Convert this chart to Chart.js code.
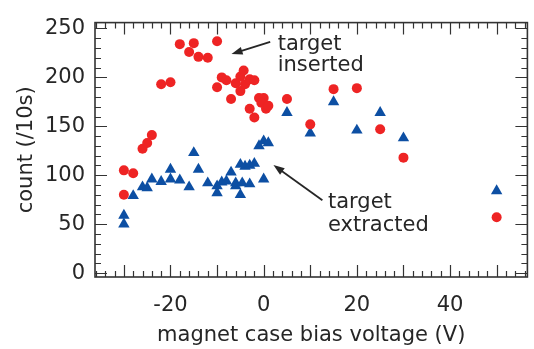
<!DOCTYPE html>
<html>
<head>
<meta charset="utf-8">
<script src="https://cdn.jsdelivr.net/npm/chart.js@4/dist/chart.umd.min.js"></script>
<style>html,body{margin:0;padding:0;background:#fff}</style>
</head>
<body>
<canvas id="graphique" width="534" height="349"></canvas>
<script>
// cible insérée (cercles rouges)
const insereX = [-30, -30, -28, -26, -25, -24, -22, -20, -18, -16, -15, -14, -12, -10, -10, -9, -8, -7, -6, -5, -4.3, -5, -4, -3, -2, -3, -2, -1, 0, -0.5, 0.5, 1, 5, 10, 15, 20, 25, 30, 50];
const insereY = [105, 80, 102, 127, 133, 141, 193, 195, 234, 226, 235, 221, 220, 237, 190, 200, 197, 178, 194, 201, 207, 186, 193, 198, 197, 168, 159, 179, 179, 174, 168, 171, 178, 152, 188, 189, 147, 118, 57];

// cible extraite (triangles bleus)
const extraitX = [-30, -30, -28, -26, -25, -24, -22, -20, -20, -18, -16, -15, -14, -12, -10, -10, -9, -8, -7, -6, -6, -5, -4.6, -3, -5, -4, -3, -2, 0, -1, 0, 1, 5, 10, 15, 20, 25, 30, 50];
const extraitY = [59, 50, 79, 88, 87, 96, 93.5, 106, 96, 95, 88, 123, 106, 92, 89, 82, 93, 94, 103, 89, 92, 80, 92, 91, 111, 109, 110, 112, 96, 130, 135, 133, 164, 143, 175, 146, 164, 138, 84];

const ticksX = [-20, 0, 20, 40];
const ticksY = [0, 50, 100, 150, 200, 250];

const police = "'DejaVu Sans'";
const gris = '#262626';

// flèches et textes d'annotation, en coordonnées des données
const annotations = [
    { lignes: ['target', 'inserted'], x: 3.0, y: [228.3, 206.6], de: [1.4, 236.4], vers: [-6.9, 223.9] },
    { lignes: ['target', 'extracted'], x: 13.8, y: [66.9, 42.9], de: [12.6, 74.5], vers: [2.1, 110.4] }
];

const cadre = {
    id: 'cadre',
    afterDatasetsDraw(chart) {
        const { ctx, chartArea: a, scales: { x, y } } = chart;
        ctx.save();
        ctx.strokeStyle = '#333';
        ctx.lineWidth = 1.2;
        ctx.beginPath();
        for (let v = -36; v <= 56; v += 2) {
            const px = Math.round(x.getPixelForValue(v)) + 0.5;
            const l = v % 10 === 0 ? 12 : 6;
            ctx.moveTo(px, a.bottom); ctx.lineTo(px, a.bottom - l);
            ctx.moveTo(px, a.top); ctx.lineTo(px, a.top + l);
        }
        for (let v = 0; v <= 250; v += 10) {
            const py = Math.round(y.getPixelForValue(v)) + 0.5;
            const l = v % 50 === 0 ? 12 : 6;
            ctx.moveTo(a.left, py); ctx.lineTo(a.left + l, py);
            ctx.moveTo(a.right, py); ctx.lineTo(a.right - l, py);
        }
        ctx.stroke();
        ctx.lineWidth = 1.6;
        ctx.strokeRect(a.left, a.top, a.right - a.left, a.bottom - a.top);

        ctx.fillStyle = gris;
        ctx.strokeStyle = gris;
        ctx.font = '21px ' + police;
        ctx.textBaseline = 'alphabetic';
        annotations.forEach(an => {
            an.lignes.forEach((t, i) => ctx.fillText(t, x.getPixelForValue(an.x), y.getPixelForValue(an.y[i])));
            const x1 = x.getPixelForValue(an.de[0]), y1 = y.getPixelForValue(an.de[1]);
            const x2 = x.getPixelForValue(an.vers[0]), y2 = y.getPixelForValue(an.vers[1]);
            const ang = Math.atan2(y2 - y1, x2 - x1);
            ctx.lineWidth = 1.8;
            ctx.beginPath();
            ctx.moveTo(x1, y1);
            ctx.lineTo(x2 - 8 * Math.cos(ang), y2 - 8 * Math.sin(ang));
            ctx.stroke();
            ctx.beginPath();
            ctx.moveTo(x2, y2);
            ctx.lineTo(x2 - 11 * Math.cos(ang) + 4 * Math.sin(ang), y2 - 11 * Math.sin(ang) - 4 * Math.cos(ang));
            ctx.lineTo(x2 - 11 * Math.cos(ang) - 4 * Math.sin(ang), y2 - 11 * Math.sin(ang) + 4 * Math.cos(ang));
            ctx.closePath();
            ctx.fill();
        });
        ctx.restore();
    }
};

new Chart(document.getElementById('graphique'), {
    type: 'scatter',
    data: {
        datasets: [
            {
                label: 'target inserted',
                data: insereX.map((v, i) => ({ x: v, y: insereY[i] })),
                pointStyle: 'circle',
                pointRadius: 5,
                backgroundColor: '#ee2424',
                borderWidth: 0
            },
            {
                label: 'target extracted',
                data: extraitX.map((v, i) => ({ x: v, y: extraitY[i] })),
                pointStyle: 'triangle',
                pointRadius: 6.6,
                backgroundColor: '#0d4fa3',
                borderWidth: 0
            }
        ]
    },
    options: {
        responsive: false,
        animation: false,
        layout: { padding: { top: 13, right: 3, left: 0, bottom: 0 } },
        plugins: { legend: { display: false }, tooltip: { enabled: false } },
        scales: {
            x: {
                type: 'linear',
                min: -36.2,
                max: 56.6,
                afterBuildTicks: s => { s.ticks = ticksX.map(v => ({ value: v })); },
                afterFit: s => { s.height = 72; },
                grid: { display: false, drawTicks: false },
                border: { display: false },
                ticks: { color: gris, font: { family: police, size: 21 }, padding: 16 },
                title: { display: true, text: 'magnet case bias voltage (V)', color: gris, font: { family: police, size: 21 }, padding: { top: 0, bottom: 1 } }
            },
            y: {
                min: -4,
                max: 256,
                afterBuildTicks: s => { s.ticks = ticksY.map(v => ({ value: v })); },
                afterFit: s => { s.width = 95; },
                grid: { display: false, drawTicks: false },
                border: { display: false },
                ticks: { color: gris, font: { family: police, size: 21 }, padding: 10 },
                title: { display: true, text: 'count (/10s)', color: gris, font: { family: police, size: 21 }, padding: { top: 14, bottom: 0 } }
            }
        }
    },
    plugins: [cadre]
});
</script>
</body>
</html>
